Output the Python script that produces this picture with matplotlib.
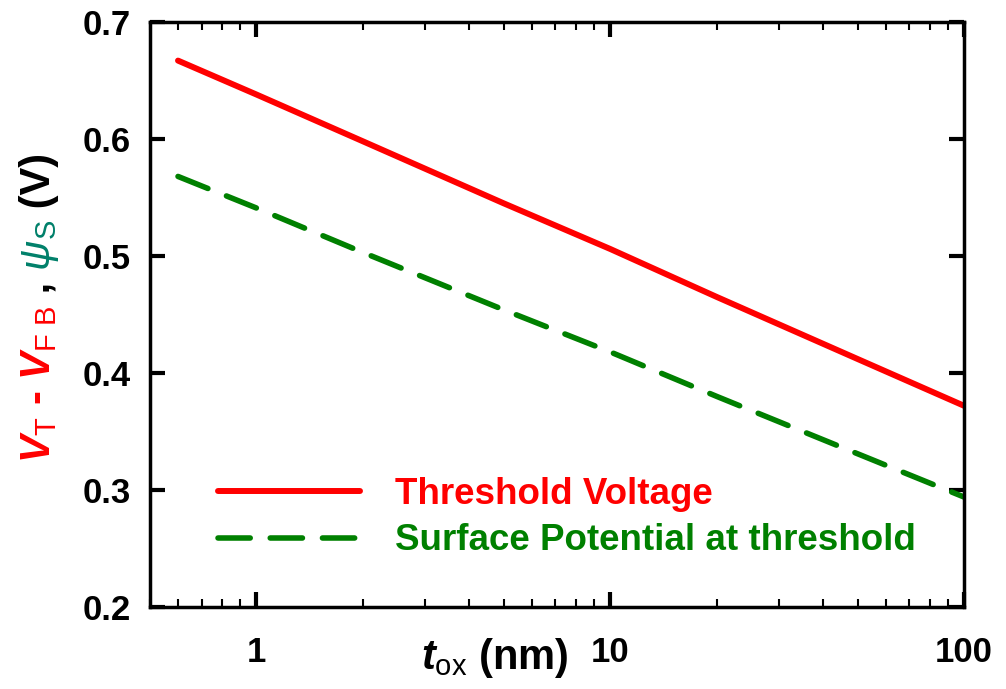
import matplotlib
matplotlib.use('Agg')
import matplotlib.pyplot as plt
from matplotlib.ticker import LogLocator, FixedLocator, NullFormatter

# data
tox = [0.6, 1, 2, 5, 10, 20, 50, 100]
v_threshold = [0.667, 0.638, 0.598, 0.545, 0.506, 0.465, 0.412, 0.372]
psi_surface = [0.568, 0.541, 0.503, 0.454, 0.418, 0.380, 0.331, 0.294]
x_ticks = [1, 10, 100]
x_ticklabels = ['1', '10', '100']
y_ticks = [0.2, 0.3, 0.4, 0.5, 0.6, 0.7]
labels = ['Threshold Voltage', 'Surface Potential at threshold']

plt.rcParams['font.family'] = ['Liberation Sans', 'DejaVu Sans']
plt.rcParams['font.weight'] = 'bold'
plt.rcParams['mathtext.fontset'] = 'custom'
plt.rcParams['mathtext.it'] = 'Liberation Sans:italic:weight=bold'
plt.rcParams['mathtext.rm'] = 'Liberation Sans:weight=normal'
plt.rcParams['mathtext.sf'] = 'Liberation Sans:italic:weight=normal'
plt.rcParams['mathtext.bf'] = 'Liberation Sans:weight=bold'

fig = plt.figure(figsize=(10.06, 6.89), dpi=100)
ax = fig.add_axes([150 / 1006, 82 / 689, 814 / 1006, 585 / 689])

ax.plot(tox, v_threshold, color='#ff0000', lw=4.3, solid_capstyle='round',
        label=labels[0])
ax.plot(tox, psi_surface, color='#008000', lw=4.0, dashes=(5.8, 3.6),
        dash_capstyle='round', label=labels[1])

ax.set_xscale('log')
ax.set_xlim(0.5, 100)
ax.set_ylim(0.2, 0.7)
ax.xaxis.set_major_locator(FixedLocator(x_ticks))
ax.set_xticklabels(x_ticklabels)
ax.xaxis.set_minor_locator(LogLocator(base=10, subs=range(2, 10)))
ax.xaxis.set_minor_formatter(NullFormatter())
ax.set_yticks(y_ticks)
ax.set_yticklabels([f'{v:.1f}' for v in y_ticks])

for s in ax.spines.values():
    s.set_linewidth(2.5)
ax.tick_params(which='major', direction='in', length=11, width=3,
               top=True, right=True, labelsize=25)
ax.tick_params(axis='x', which='major', pad=21)
ax.tick_params(axis='y', which='major', pad=14)
ax.tick_params(which='minor', direction='in', length=6, width=1.5,
               top=True, right=True)

ax.set_xlabel(r'$t_\mathrm{ox}$ (nm)', fontsize=30, fontweight='bold')
ax.xaxis.set_label_coords(0.424, -0.05)

# multi-coloured y label, built from pieces stacked upward
pieces = [(r'$V_\mathrm{T}$ - $V_\mathrm{F\ B}$', '#ff0000'),
          (' ,', 'black'),
          (r' $\mathsf{\psi}_\mathrm{S}$', '#00806a'),
          (' (V)', 'black')]
xb = 50 / 1006
prev = fig.text(xb, 1 - 463 / 689, pieces[0][0], color=pieces[0][1],
                rotation=90, rotation_mode='anchor', ha='left', va='baseline',
                fontsize=30, fontweight='bold')
for txt, col in pieces[1:]:
    prev = ax.annotate(txt, xy=(xb, 1), xycoords=('figure fraction', prev),
                       color=col, rotation=90, rotation_mode='anchor',
                       ha='left', va='baseline', fontsize=30,
                       fontweight='bold', annotation_clip=False)

leg = ax.legend(loc='lower left', bbox_to_anchor=(0.0835, 0.083),
                frameon=False, fontsize=26.5, handlelength=3.85,
                handletextpad=0.95, labelspacing=0.32, borderpad=0,
                borderaxespad=0, labelcolor='linecolor')

plt.savefig('out.png', dpi=100)
